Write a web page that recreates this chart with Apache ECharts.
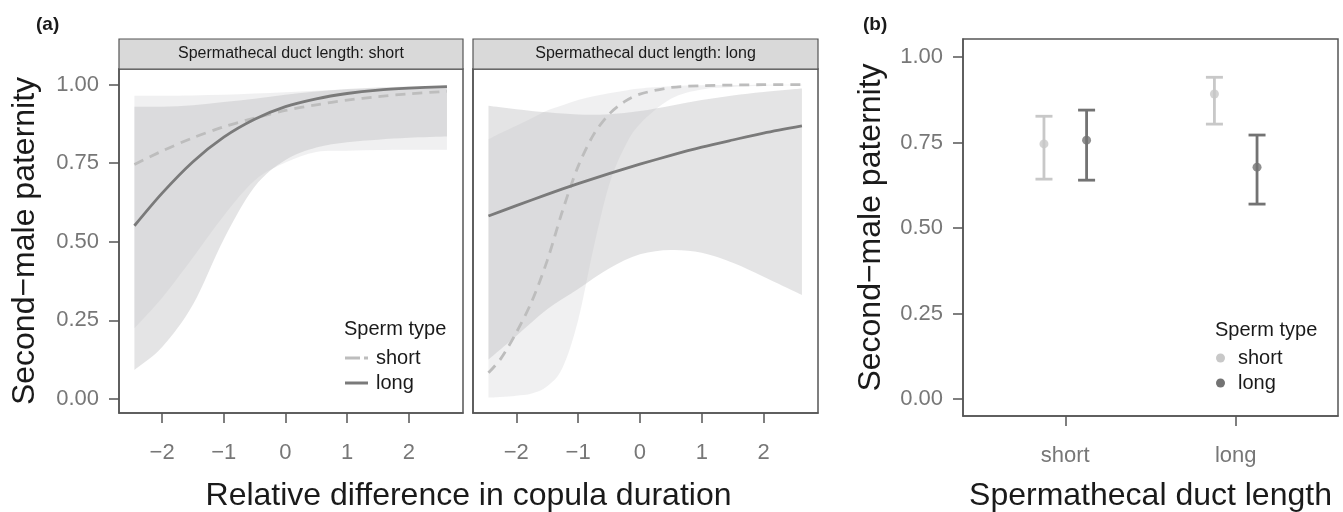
<!DOCTYPE html>
<html><head><meta charset="utf-8">
<script src="https://cdn.jsdelivr.net/npm/echarts@6/dist/echarts.min.js"></script>
<style>html,body{margin:0;padding:0;background:#fff}#c{width:1343px;height:512px}</style>
</head><body><div id="c"></div>
<script>
// ================= DATA =================
const stripLabels = ['Spermathecal duct length: short', 'Spermathecal duct length: long'];
const spermTypes = ['short', 'long'];
const xTicks = [-2, -1, 0, 1, 2];
const yTicks = [0, 0.25, 0.5, 0.75, 1];
const ductCats = ['short', 'long'];

// x positions of the fitted curves
const gridX = [-2.45, -2, -1.5, -1, -0.5, 0, 0.5, 1, 1.5, 2, 2.62];
const gridXFine = [-2.45, -2.25, -2, -1.75, -1.5, -1.25, -1, -0.75, -0.5, -0.25, 0, 0.5, 1, 1.5, 2, 2.62];

// Panel (a) left: duct length short  (on gridX)
const dShortLongFit  = [0.551, 0.655, 0.755, 0.833, 0.890, 0.930, 0.955, 0.972, 0.983, 0.989, 0.994];
const dShortLongLo   = [0.092, 0.165, 0.300, 0.508, 0.675, 0.760, 0.800, 0.817, 0.825, 0.831, 0.835];
const dShortLongHi   = [0.930, 0.930, 0.935, 0.945, 0.955, 0.968, 0.978, 0.986, 0.991, 0.994, 0.997];
const dShortShortFit = [0.746, 0.789, 0.831, 0.866, 0.894, 0.918, 0.936, 0.951, 0.962, 0.971, 0.979];
const dShortShortLo  = [0.225, 0.322, 0.450, 0.583, 0.695, 0.752, 0.786, 0.790, 0.792, 0.793, 0.793];
const dShortShortHi  = [0.965, 0.965, 0.966, 0.968, 0.972, 0.976, 0.981, 0.985, 0.988, 0.990, 0.993];

// Panel (a) right: duct length long
const dLongLongFit  = [0.582, 0.615, 0.651, 0.685, 0.717, 0.747, 0.775, 0.801, 0.824, 0.846, 0.869]; // gridX
const dLongLongLo   = [0.125, 0.200, 0.285, 0.350, 0.415, 0.460, 0.474, 0.465, 0.433, 0.389, 0.331];
const dLongLongHi   = [0.933, 0.922, 0.912, 0.905, 0.906, 0.916, 0.933, 0.951, 0.966, 0.977, 0.988];
const dLongShortFit = [0.083, 0.128, 0.211, 0.310, 0.440, 0.600, 0.740, 0.841, 0.906, 0.946, 0.970, 0.991, 0.997, 0.999, 1.000, 1.000]; // gridXFine
const dLongShortLo  = [0.004, 0.006, 0.010, 0.017, 0.040, 0.100, 0.250, 0.480, 0.680, 0.800, 0.875, 0.955, 0.985, 0.993, 0.997, 0.998];
const dLongShortHi  = [0.826, 0.846, 0.869, 0.893, 0.918, 0.935, 0.951, 0.963, 0.973, 0.981, 0.988, 0.995, 0.998, 0.999, 1.000, 1.000];

// Panel (b): by duct length category
const shortSpermMean = [0.746, 0.892];
const shortSpermLo   = [0.643, 0.804];
const shortSpermHi   = [0.827, 0.941];
const longSpermMean  = [0.757, 0.678];
const longSpermLo    = [0.640, 0.570];
const longSpermHi    = [0.845, 0.772];

// ================= STYLE / LAYOUT =================
const FONT = "'Liberation Sans', Arial, Helvetica, sans-serif";
const AX = '#555555';
const LBL = '#777777';
const TXT = '#1a1a1a';
const C_SHORT = '#bdbdbd';
const C_LONG = '#7a7a7a';
const C_SHORT_PT = '#c8c8c8';
const C_LONG_PT = '#737373';
const BAND_SHORT = 'rgba(205,205,208,0.3)';
const BAND_LONG = 'rgba(190,190,192,0.42)';
const DODGE = 0.125;

const G = [
  {left: 119, top: 69, width: 344, height: 344},
  {left: 473, top: 69, width: 345, height: 344},
  {left: 963, top: 39, width: 375, height: 377}
];

const pairs = (xs, ys) => xs.map((x, i) => [x, ys[i]]);
const minus = v => String(v).replace('-', '\u2212');

// smooth (Catmull-Rom -> bezier) path through pixel points
function curvePath(P, start) {
  let d = (start ? 'M' : 'L') + P[0][0] + ',' + P[0][1];
  const n = P.length;
  for (let i = 0; i < n - 1; i++) {
    const p0 = P[Math.max(i - 1, 0)], p1 = P[i], p2 = P[i + 1], p3 = P[Math.min(i + 2, n - 1)];
    const k = 1 / 6;
    const c1 = [p1[0] + (p2[0] - p0[0]) * k, p1[1] + (p2[1] - p0[1]) * k];
    const c2 = [p2[0] - (p3[0] - p1[0]) * k, p2[1] - (p3[1] - p1[1]) * k];
    d += 'C' + c1[0] + ',' + c1[1] + ',' + c2[0] + ',' + c2[1] + ',' + p2[0] + ',' + p2[1];
  }
  return d;
}

function band(name, idx, xs, lo, hi, color, z) {
  return {type: 'custom', name: name, xAxisIndex: idx, yAxisIndex: idx, silent: true, z: z, clip: true,
    data: xs.map((x, i) => [x, lo[i], hi[i]]),
    encode: {x: 0, y: [1, 2]},
    renderItem: function (params, api) {
      if (params.dataIndexInside !== 0) return null;
      const n = params.dataInsideLength;
      const up = [], dn = [];
      for (let i = 0; i < n; i++) {
        const x = api.value(0, i);
        up.push(api.coord([x, api.value(2, i)]));
        dn.push(api.coord([x, api.value(1, i)]));
      }
      dn.reverse();
      const d = curvePath(up, true) + curvePath(dn, false) + 'Z';
      return {type: 'path', shape: {pathData: d}, style: {fill: color, stroke: null}};
    }};
}
function fitLine(name, idx, xs, ys, dashed) {
  return {type: 'line', name: name, xAxisIndex: idx, yAxisIndex: idx, data: pairs(xs, ys),
    smooth: 0.3, symbol: 'none', silent: true, z: 5,
    itemStyle: {color: dashed ? C_SHORT : C_LONG},
    lineStyle: {color: dashed ? C_SHORT : C_LONG, width: 2.8, type: dashed ? [10, 7] : 'solid'}};
}
function errBars(name, lo, hi, offset, color) {
  return {type: 'custom', name: name + '_err', xAxisIndex: 2, yAxisIndex: 2, silent: true, z: 4,
    data: ductCats.map((c, i) => [i + 1 + offset, lo[i], hi[i]]),
    encode: {x: 0, y: [1, 2]},
    renderItem: function (params, api) {
      const x = api.value(0);
      const pLo = api.coord([x, api.value(1)]);
      const pHi = api.coord([x, api.value(2)]);
      const hw = 8.5;
      const st = {stroke: color, lineWidth: 2.8};
      return {type: 'group', children: [
        {type: 'line', shape: {x1: pLo[0], y1: pLo[1], x2: pHi[0], y2: pHi[1]}, style: st},
        {type: 'line', shape: {x1: pLo[0] - hw, y1: pLo[1], x2: pLo[0] + hw, y2: pLo[1]}, style: st},
        {type: 'line', shape: {x1: pHi[0] - hw, y1: pHi[1], x2: pHi[0] + hw, y2: pHi[1]}, style: st}
      ]};
    }};
}
function pts(name, mean, offset, color) {
  return {type: 'scatter', name: name, xAxisIndex: 2, yAxisIndex: 2, silent: true, z: 6,
    data: ductCats.map((c, i) => [i + 1 + offset, mean[i]]),
    symbol: 'circle', symbolSize: 9, itemStyle: {color: color}};
}

const axisLineStyle = {color: AX, width: 1.5};
function xAx(idx, min, max, ticks, fmt) {
  return {type: 'value', gridIndex: idx, min: min, max: max, splitLine: {show: false},
    axisLine: {show: true, onZero: false, lineStyle: axisLineStyle},
    axisTick: {show: true, length: 10, lineStyle: axisLineStyle, customValues: ticks},
    axisLabel: {show: true, customValues: ticks, formatter: fmt, color: LBL, fontSize: 22, fontFamily: FONT, margin: 29}};
}
function yAx(idx, min, max, showLabels, name) {
  return {type: 'value', gridIndex: idx, min: min, max: max, splitLine: {show: false},
    name: name || '', nameLocation: 'middle', nameRotate: 90, nameGap: idx === 2 ? 76 : 78,
    nameTextStyle: {fontSize: 32, color: TXT, fontFamily: FONT},
    axisLine: {show: true, onZero: false, lineStyle: axisLineStyle},
    axisTick: {show: showLabels, length: 10, lineStyle: axisLineStyle, customValues: yTicks},
    axisLabel: {show: showLabels, customValues: yTicks, formatter: v => Number(v).toFixed(2),
      color: LBL, fontSize: 22, fontFamily: FONT, margin: 20}};
}

const series = [
  fitLine('short', 0, gridX, dShortShortFit, true),
  fitLine('long', 0, gridX, dShortLongFit, false),
  fitLine('short', 1, gridXFine, dLongShortFit, true),
  fitLine('long', 1, gridX, dLongLongFit, false),
  band('bs0', 0, gridX, dShortShortLo, dShortShortHi, BAND_SHORT, 1),
  band('bl0', 0, gridX, dShortLongLo, dShortLongHi, BAND_LONG, 2),
  band('bs1', 1, gridXFine, dLongShortLo, dLongShortHi, BAND_SHORT, 1),
  band('bl1', 1, gridX, dLongLongLo, dLongLongHi, BAND_LONG, 2),
  errBars('short', shortSpermLo, shortSpermHi, -DODGE, C_SHORT_PT),
  errBars('long', longSpermLo, longSpermHi, DODGE, C_LONG_PT),
  pts('short', shortSpermMean, -DODGE, C_SHORT_PT),
  pts('long', longSpermMean, DODGE, C_LONG_PT)
];

const graphic = [];
stripLabels.forEach((s, i) => {
  graphic.push({type: 'rect', silent: true, z: 50, shape: {x: G[i].left, y: 39, width: G[i].width, height: 30},
    style: {fill: '#d9d9d9', stroke: AX, lineWidth: 1.2}});
  graphic.push({type: 'text', silent: true, z: 51, x: G[i].left + G[i].width / 2, y: 54,
    style: {text: s, fill: TXT, fontSize: 16, fontFamily: FONT, align: 'center', verticalAlign: 'middle'}});
});
const txt = (t, x, y, size, align, bold) => ({type: 'text', silent: true, z: 100, x: x, y: y,
  style: {text: t, fill: TXT, fontSize: size, fontWeight: bold ? 'bold' : 'normal', fontFamily: FONT,
    align: align, verticalAlign: 'middle'}});
graphic.push(txt('(a)', 36, 25, 19, 'left', true));
graphic.push(txt('(b)', 863, 25, 19, 'left', true));
graphic.push(txt('Relative difference in copula duration', (G[0].left + G[1].left + G[1].width) / 2, 496, 32, 'center'));
graphic.push(txt('Spermathecal duct length', G[2].left + G[2].width / 2, 496, 32, 'center'));
graphic.push(txt('Sperm type', 344, 329, 20, 'left'));
graphic.push(txt('Sperm type', 1215, 330, 20, 'left'));

const option = {
  animation: false,
  backgroundColor: '#ffffff',
  grid: G.map(g => Object.assign({show: true, borderColor: AX, borderWidth: 1.5, backgroundColor: 'transparent',
    containLabel: false, outerBoundsMode: 'none'}, g)),
  xAxis: [
    xAx(0, -2.7, 2.88, xTicks, v => minus(v)),
    xAx(1, -2.7, 2.88, xTicks, v => minus(v)),
    xAx(2, 0.4, 2.6, [1, 2], v => ductCats[Math.round(v) - 1] || '')
  ],
  yAxis: [
    yAx(0, -0.045, 1.05, true, 'Second\u2212male paternity'),
    yAx(1, -0.045, 1.05, false, ''),
    yAx(2, -0.05, 1.053, true, 'Second\u2212male paternity')
  ],
  legend: [
    {left: 345, top: 348, orient: 'vertical', padding: 0, itemWidth: 23, itemHeight: 3, itemGap: 5,
     selectedMode: false, z: 60,
     data: [
       {name: 'short', icon: 'path://M0,0H15V3H0Z M19,0H23V3H19Z', itemStyle: {color: C_SHORT, borderWidth: 0}},
       {name: 'long', icon: 'path://M0,0H23V3H0Z', itemStyle: {color: C_LONG, borderWidth: 0}}
     ],
     textStyle: {fontSize: 20, color: TXT, fontFamily: FONT, padding: [0, 0, 0, 3]}},
    {left: 1216, top: 348, orient: 'vertical', padding: 0, itemWidth: 17, itemHeight: 9, itemGap: 5,
     selectedMode: false, z: 60,
     data: [{name: 'short', icon: 'circle', itemStyle: {color: C_SHORT_PT, borderWidth: 0}},
            {name: 'long', icon: 'circle', itemStyle: {color: C_LONG_PT, borderWidth: 0}}],
     textStyle: {fontSize: 20, color: TXT, fontFamily: FONT, padding: [0, 0, 0, 4]}}
  ],
  graphic: graphic,
  series: series
};
const chart = echarts.init(document.getElementById('c'), null, {renderer: 'canvas'});
chart.setOption(option);
</script>
</body></html>
